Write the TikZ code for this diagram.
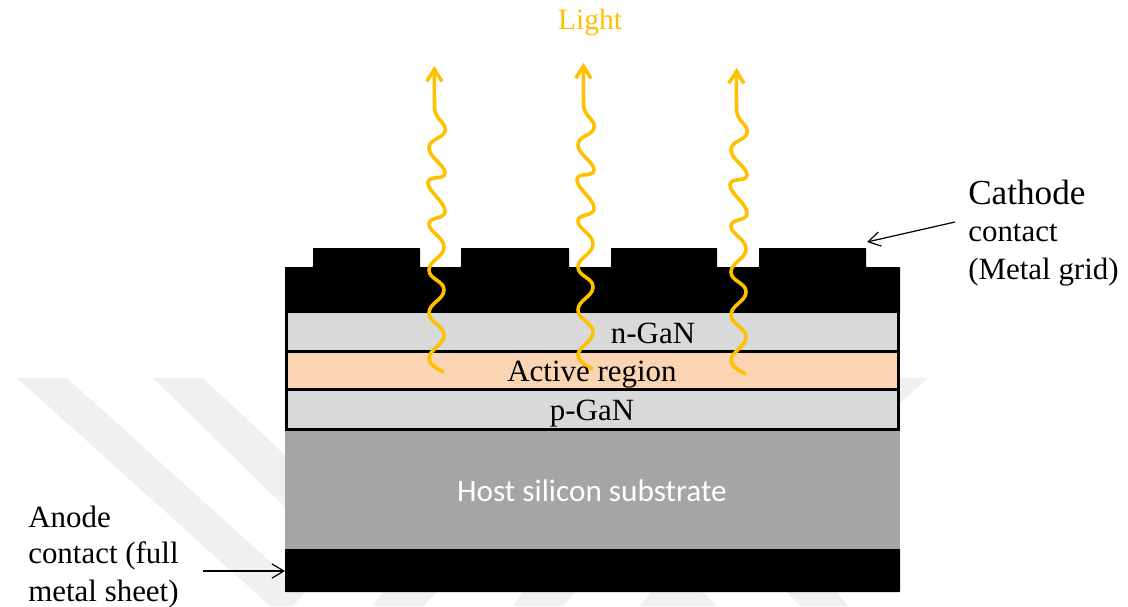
\documentclass[tikz,border=0pt]{standalone}
\usepackage{fontspec}
\setmainfont{Liberation Serif}
\newfontfamily\hostfont{Carlito}
\usetikzlibrary{arrows.meta}
\definecolor{lightcol}{RGB}{255,192,0}
\definecolor{nganCol}{RGB}{217,217,217}
\definecolor{activeCol}{RGB}{251,212,180}
\definecolor{hostCol}{RGB}{165,165,165}
\definecolor{markCol}{RGB}{240,240,240}
\tikzset{
	layer/.style={draw=black, line width=0.7mm, fill=#1},
	metal/.style={fill=black, rounded corners=0.5pt},
	wave/.style={draw=lightcol, line width=0.9mm, -{Straight Barb[length=3mm,width=3.8mm,line width=0.9mm]}},
	lbl/.style={font=\fontsize{22}{26}\selectfont, inner sep=0pt},
	big/.style={font=\fontsize{25}{26}\selectfont, inner sep=0pt},
	pointer/.style={draw=black, line width=0.3mm, -{Straight Barb[length=3mm,width=3.6mm,line width=0.3mm]}}
}
\begin{document}
\begin{tikzpicture}[x=0.025cm, y=-0.025cm]
	\useasboundingbox (0,0) rectangle (1128,606);
	% watermark
	\fill[markCol] (17,378) -- (67,378) -- (285,575) -- (285,606) -- (270,606) -- cycle;
	\fill[markCol] (153,378) -- (203,378) -- (285,455) -- (285,507) -- cycle;
	\fill[markCol] (900,378) -- (928,378) -- (900,403) -- cycle;
	\fill[markCol] (285,590) -- (307,590) -- (293,606) -- (285,606) -- cycle;
	\fill[markCol] (385,590) -- (439,590) -- (423,606) -- (373,606) -- cycle;
	\fill[markCol] (525,590) -- (577,590) -- (563,606) -- (513,606) -- cycle;
	\fill[markCol] (652,590) -- (701,590) -- (717,606) -- (640,606) -- cycle;
	\fill[markCol] (785,590) -- (835,590) -- (848,606) -- (800,606) -- cycle;
	% layers
	\fill[hostCol] (285,431) rectangle (900,549);
	\node[text=white, font=\hostfont\fontsize{22.2}{26}\selectfont, inner sep=0pt] (hostlabel) at (592,491) {Host silicon substrate};
	\draw[layer=nganCol] (286.3,312) rectangle (898.3,351.5);
	\draw[layer=activeCol] (286.3,351.5) rectangle (898.3,389.5);
	\draw[layer=nganCol] (286.3,389.5) rectangle (898.3,429.5);
	\node[lbl] (ngan) at (653,333) {n-GaN};
	\node[lbl] (pgan) at (592,414) {p-GaN};
	% metal
	\fill[metal] (285,312.5) -- (285,267) -- (313,267) -- (313,248) -- (420,248) -- (420,267) -- (461,267) -- (461,248) -- (569,248) -- (569,267) -- (611,267) -- (611,248) -- (717,248) -- (717,267) -- (759,267) -- (759,248) -- (866,248) -- (866,267) -- (900,267) -- (900,312.5) -- cycle;
	\fill[metal] (285,549) rectangle (900,592);
	% light
	\foreach \x/\y in {0/0, 149/-3, 302/2}{
		\begin{scope}[shift={(\x,\y)}]
			\draw[wave] plot[smooth, tension=0.8] coordinates {(444,372) (429,358) (444,335) (429,313) (444,290) (429,270) (444,247) (429,224) (445,211) (428,183) (445,173) (429,148) (445,131) (436,114) (434.5,100) (434.5,66)};
		\end{scope}
	}
	\node[text=lightcol, font=\fontsize{21}{24}\selectfont, inner sep=0pt] (lightlabel) at (590,22) {Light};
	\node[lbl] (active) at (592,375) {Active region};
	% labels
	\node[big, anchor=west] (cathode) at (968,192) {Cathode};
	\node[lbl, anchor=west] (contact) at (968,233) {contact};
	\node[lbl, anchor=west] (grid) at (968,272) {(Metal grid)};
	\node[lbl, anchor=west] (anode) at (28,517) {Anode};
	\node[lbl, anchor=west] (anode2) at (28,556) {contact (full};
	\node[lbl, anchor=west] (anode3) at (28,594) {metal sheet)};
	\coordinate (cathodefrom) at (955,222);
	\coordinate (cathodeto) at (867,242);
	\coordinate (anodefrom) at (203,571);
	\coordinate (anodeto) at (285,571);
	\draw[pointer] (cathodefrom) -- (cathodeto);
	\draw[pointer] (anodefrom) -- (anodeto);
\end{tikzpicture}
\end{document}
